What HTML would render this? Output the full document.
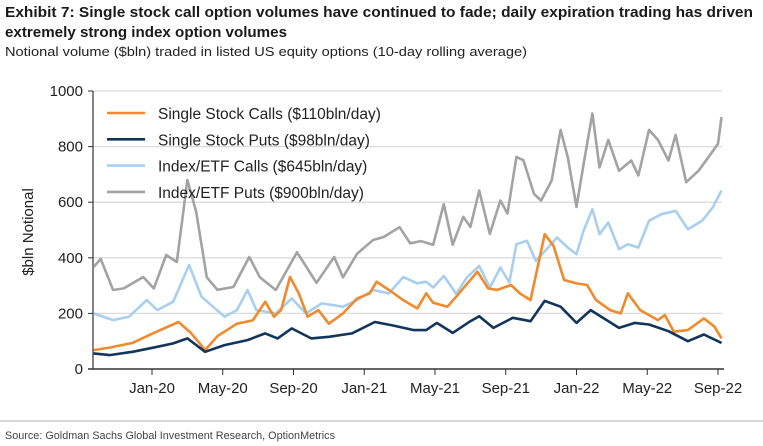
<!DOCTYPE html>
<html><head><meta charset="utf-8"><style>
body{margin:0;background:#fff;width:763px;height:446px;overflow:hidden}
svg{display:block;font-family:"Liberation Sans",Arial,sans-serif}
</style></head><body>
<svg id="chart" width="763" height="446" viewBox="0 0 763 446">
<text x="5" y="17" font-size="14.5" font-weight="bold" fill="#1a1a1a" textLength="748" lengthAdjust="spacingAndGlyphs" font-family="Liberation Sans Narrow, Liberation Sans, sans-serif">Exhibit 7: Single stock call option volumes have continued to fade; daily expiration trading has driven</text>
<text x="5" y="37" font-size="14.5" font-weight="bold" fill="#1a1a1a" textLength="282" lengthAdjust="spacingAndGlyphs" font-family="Liberation Sans Narrow, Liberation Sans, sans-serif">extremely strong index option volumes</text>
<text x="5" y="56" font-size="13" fill="#222" textLength="522" lengthAdjust="spacingAndGlyphs" font-family="Liberation Sans Narrow, Liberation Sans, sans-serif">Notional volume ($bln) traded in listed US equity options (10-day rolling average)</text>
<g id="grid"></g><g id="axes"></g><g id="series"></g><g id="legend"></g>
<text transform="translate(33,232) rotate(-90)" text-anchor="middle" font-size="15" fill="#222">$bln Notional</text>
<line x1="0" y1="421" x2="763" y2="421" stroke="#ccc" stroke-width="1.5"/>
<text x="5" y="439" font-size="11" fill="#444" textLength="330" lengthAdjust="spacingAndGlyphs" font-family="Liberation Sans Narrow, Liberation Sans, sans-serif">Source: Goldman Sachs Global Investment Research, OptionMetrics</text>
</svg>
<script>
const yTicks=[0,200,400,600,800,1000];
const xTickLabels=["Jan-20","May-20","Sep-20","Jan-21","May-21","Sep-21","Jan-22","May-22","Sep-22"];
const xTickMonths=[0,4,8,12,16,20,24,28,32];
const seriesNames=["Single Stock Calls ($110bln/day)","Single Stock Puts ($98bln/day)","Index/ETF Calls ($645bln/day)","Index/ETF Puts ($900bln/day)"];
const seriesColors=["#f08a2c","#12355b","#a9cfee","#a3a3a3"];
const putsIdxMonths=[-3.3,-2.9,-2.2,-1.6,-0.5,0.1,0.8,1.4,2.0,2.5,3.1,3.7,4.6,5.5,6.1,7.0,8.2,9.3,10.3,10.8,11.6,12.5,13.1,14.0,14.6,15.2,15.9,16.5,17.0,17.6,18.0,18.5,19.1,19.7,20.1,20.6,21.0,21.6,22.0,22.6,23.1,23.5,24.0,24.4,24.9,25.3,25.8,26.4,27.1,27.5,28.1,28.6,29.2,29.6,30.2,30.9,31.6,32.0,32.2];
const putsIdxValues=[367,396,284,290,331,290,410,385,680,565,330,285,295,403,330,284,420,310,403,330,415,464,475,510,452,460,447,593,447,547,511,642,486,606,559,763,751,630,606,678,860,763,583,737,919,725,824,713,750,696,860,824,750,842,672,713,774,810,906];
const callsIdxMonths=[-3.3,-2.2,-1.3,-0.3,0.3,1.2,2.1,2.8,4.1,4.8,5.4,5.9,7.0,7.9,8.7,9.6,10.8,11.6,12.5,13.4,14.2,15.0,15.5,15.9,16.5,17.2,17.8,18.5,19.1,19.7,20.2,20.6,21.2,21.7,22.4,22.9,23.5,24.0,24.4,24.9,25.3,25.8,26.4,26.9,27.5,28.1,28.8,29.6,30.3,31.1,31.7,32.2];
const callsIdxValues=[200,176,188,248,212,242,374,260,188,212,284,212,200,254,200,236,224,248,284,272,331,308,314,293,335,270,329,371,293,365,311,449,461,389,437,473,437,413,497,575,485,527,431,449,437,533,557,569,503,533,581,642];
const callsSSMonths=[-3.3,-2.4,-1.1,0.1,1.5,2.2,3.0,3.7,4.8,5.7,6.4,6.9,7.3,7.8,8.3,8.8,9.4,10.0,10.8,11.6,12.3,12.7,13.4,14.2,15.0,15.5,15.9,16.7,17.2,18.4,19.0,19.5,20.3,20.8,21.4,22.2,22.7,23.3,24.0,24.6,25.1,25.9,26.5,26.9,27.6,28.6,29.0,29.5,30.3,31.2,31.8,32.2];
const callsSSValues=[68,77,94,130,169,130,68,118,163,175,242,188,212,331,272,188,212,163,200,254,272,314,284,248,218,272,238,224,260,350,290,284,302,272,248,485,443,320,308,302,248,212,200,272,212,176,194,134,140,182,152,110];
const putsSSMonths=[-3.3,-2.4,-1.1,0.3,1.2,2.0,3.0,4.1,5.4,6.4,7.1,7.9,9.0,10.0,11.3,12.6,13.6,14.8,15.5,16.1,17.0,18.0,18.5,19.3,20.4,21.4,22.2,23.1,24.0,24.8,26.4,27.3,28.1,29.2,30.3,31.2,32.2];
const putsSSValues=[56,50,62,80,92,110,62,86,104,128,110,146,110,116,128,169,157,140,140,166,130,172,190,148,184,172,245,224,166,212,148,166,160,136,100,124,94];

const NS="http://www.w3.org/2000/svg";
const L=93,R=722,T=91,B=369;
const xScale=m=>152+m*(718-152)/32;
const yScale=v=>B-(v/1000)*(B-T);
function mk(tag,attrs,parent){const e=document.createElementNS(NS,tag);for(const k in attrs)e.setAttribute(k,attrs[k]);parent.appendChild(e);return e;}
const grid=document.getElementById('grid'),axes=document.getElementById('axes'),ser=document.getElementById('series'),leg=document.getElementById('legend');
yTicks.forEach(v=>{
  if(v>0){const g=mk('line',{x1:L,x2:R,y1:yScale(v),y2:yScale(v),stroke:'#dcdcdc','stroke-width':1.3},grid);
  
  }
  const tk=mk('line',{x1:L-5,x2:L,y1:yScale(v),y2:yScale(v),stroke:'#333','stroke-width':1},axes);
  
  
  const t=mk('text',{x:L-10,y:yScale(v)+5,'text-anchor':'end','font-size':15,fill:'#222'},axes);
  t.textContent=v;
  
  
});
const ya=mk('line',{x1:L,x2:L,y1:T,y2:B,stroke:'#333','stroke-width':1.2},axes);


const xa=mk('line',{x1:L-5,x2:R+2,y1:B,y2:B,stroke:'#333','stroke-width':1.5},axes);


xTickMonths.forEach((m,i)=>{
  const tk=mk('line',{x1:xScale(m),x2:xScale(m),y1:B,y2:B+6,stroke:'#333','stroke-width':1},axes);
  
  
  const t=mk('text',{x:xScale(m),y:B+24,'text-anchor':'middle','font-size':15,fill:'#222'},axes);
  t.textContent=xTickLabels[i];
  
  
});
const allSeries=[[putsIdxMonths,putsIdxValues,3,'index-etf-puts-line'],[callsIdxMonths,callsIdxValues,2,'index-etf-calls-line'],[callsSSMonths,callsSSValues,0,'single-stock-calls-line'],[putsSSMonths,putsSSValues,1,'single-stock-puts-line']];
allSeries.forEach(([ms,vs,ci,name])=>{
  const d=ms.map((m,i)=>(i?'L':'M')+xScale(m).toFixed(1)+','+yScale(vs[i]).toFixed(1)).join(' ');
  const p=mk('path',{d:d,fill:'none',stroke:seriesColors[ci],'stroke-width':2.6,'stroke-linejoin':'round'},ser);
  
  
});
const legNames=['legend-single-stock-calls','legend-single-stock-puts','legend-index-etf-calls','legend-index-etf-puts'];
seriesNames.forEach((n,i)=>{
  const y=113+i*26.3;
  const g=mk('g',{},leg);
  
  
  mk('line',{x1:107,x2:145,y1:y,y2:y,stroke:seriesColors[i],'stroke-width':2.6},g);
  const t=mk('text',{x:158,y:y+6,'font-size':15.5,fill:'#222'},g);
  t.textContent=n;
});
</script>
</body></html>
